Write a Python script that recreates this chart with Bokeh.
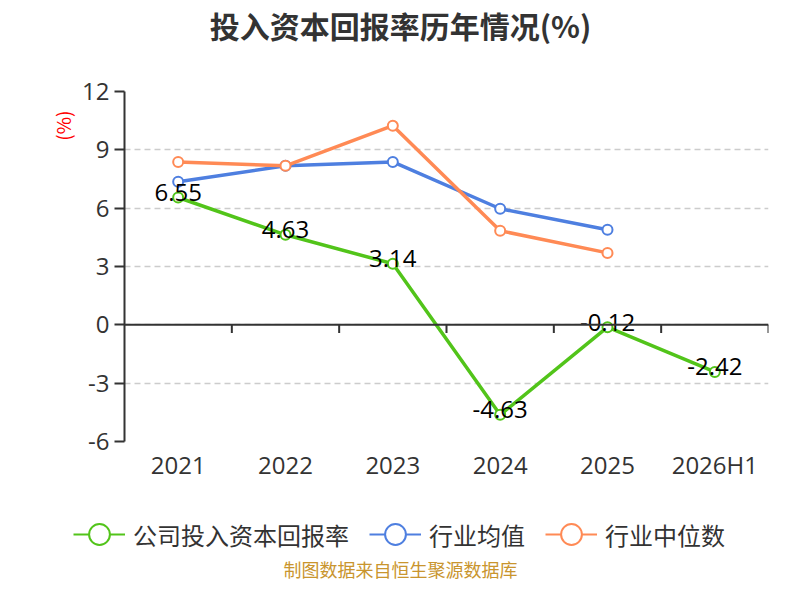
from bokeh.plotting import figure
from bokeh.layouts import column
from bokeh.models import (Range1d, FixedTicker, Span, Title, Label, Legend,
                          LegendItem, ColumnDataSource)
from bokeh.core.properties import value
from bokeh.embed import file_html
from bokeh.resources import INLINE

# ---- data ----
years = ["2021", "2022", "2023", "2024", "2025", "2026H1"]
company = [6.55, 4.63, 3.14, -4.63, -0.12, -2.42]
industry_mean = [7.36, 8.18, 8.38, 5.97, 4.89]
industry_median = [8.38, 8.18, 10.24, 4.84, 3.70]
y_ticks = [-6, -3, 0, 3, 6, 9, 12]

series_names = ["公司投入资本回报率", "行业均值", "行业中位数"]
colors = ["#52c41a", "#4e7fe0", "#ff8a55"]
title_text = "投入资本回报率历年情况(%)"
unit_text = "(%)"
footer_text = "制图数据来自恒生聚源数据库"

NUM_FONT = "Open Sans, Noto Sans CJK SC"
CJK_FONT = "Noto Sans CJK SC"

n = len(years)
xs = [i + 0.5 for i in range(n)]
W = 784


def bare(h, yr=(0, 1)):
    f = figure(width=W, height=h, output_backend="svg", toolbar_location=None,
               x_range=Range1d(0, 1), y_range=Range1d(*yr),
               min_border=0, min_border_left=0, min_border_right=0,
               min_border_top=0, min_border_bottom=0)
    f.axis.visible = False
    f.grid.visible = False
    f.outline_line_color = None
    f.frame_align = False
    return f


# ---- title figure ----
t = bare(56)
t.add_layout(Label(x=400, y=32, x_units="screen", y_units="screen",
                   text=title_text, text_align="center", text_baseline="middle",
                   text_font=CJK_FONT, text_font_size="30px",
                   text_font_style="bold", text_color="#333333"))

# ---- main chart ----
p = figure(width=W, height=440, output_backend="svg", toolbar_location=None,
           x_range=Range1d(0, n), y_range=Range1d(min(y_ticks), max(y_ticks)),
           min_border_left=124, min_border_right=16, min_border_top=35,
           min_border_bottom=55)
p.outline_line_color = None
p.frame_align = False

p.xgrid.visible = False
p.ygrid.ticker = FixedTicker(ticks=y_ticks)
p.ygrid.grid_line_color = "#cccccc"
p.ygrid.grid_line_width = 1.5
p.ygrid.grid_line_dash = "6 4"

p.yaxis.ticker = FixedTicker(ticks=y_ticks)
p.yaxis.major_label_overrides = {v: str(v) for v in y_ticks}
p.yaxis.axis_line_color = "#333333"
p.yaxis.axis_line_width = 2
p.yaxis.major_tick_line_color = "#333333"
p.yaxis.major_tick_line_width = 2
p.yaxis.major_tick_out = 10
p.yaxis.major_tick_in = 0
p.yaxis.minor_tick_line_color = None
p.yaxis.major_label_text_font = NUM_FONT
p.yaxis.major_label_text_font_size = "24px"
p.yaxis.major_label_text_color = "#333333"
p.yaxis.major_label_standoff = 5

p.xaxis.ticker = FixedTicker(ticks=xs)
p.xaxis.major_label_overrides = {x: y for x, y in zip(xs, years)}
p.xaxis.axis_line_color = None
p.xaxis.major_tick_line_color = None
p.xaxis.minor_tick_line_color = None
p.xaxis.major_label_text_font = NUM_FONT
p.xaxis.major_label_text_font_size = "24px"
p.xaxis.major_label_text_color = "#333333"
p.xaxis.major_label_standoff = 0

p.add_layout(Title(text=unit_text, align="right", text_color="#ff0000",
                   text_font=CJK_FONT, text_font_size="19px",
                   text_font_style="normal", offset=19, standoff=8), "left")

p.add_layout(Span(location=0, dimension="width", line_color="#333333", line_width=2))
bounds = [i + 1 for i in range(n)]
p.segment(x0=bounds, x1=bounds, y0=[0] * n, y1=[-0.42] * n,
          line_color="#333333", line_width=2)

all_vals = [company, industry_mean, industry_median]
sources = []
for vals, col in zip(all_vals, colors):
    src = ColumnDataSource(dict(x=xs[:len(vals)], y=vals))
    sources.append(src)
    p.line("x", "y", source=src, line_color=col, line_width=3.5)
    p.scatter("x", "y", source=src, size=10, marker="circle",
              fill_color="white", line_color=col, line_width=2)

lab_src = ColumnDataSource(dict(x=xs, y=company, t=[f"{v:.2f}" for v in company]))
p.text("x", "y", text="t", source=lab_src, text_align="center",
       text_baseline="middle", text_font=value(NUM_FONT), text_font_size="24px",
       text_color="black", y_offset=-5)

# ---- legend + footer figure (its y range keeps the series out of view) ----
q = bare(88, yr=(1000, 1001))
items = []
for name, src, col in zip(series_names, sources, colors):
    lr = q.line("x", "y", source=src, line_color=col, line_width=2)
    sr = q.scatter("x", "y", source=src, size=10, marker="circle",
                   fill_color="white", line_color=col, line_width=2)
    items.append(LegendItem(label=name, renderers=[lr, sr]))

legend = Legend(items=items, orientation="horizontal", location=(73, 23),
                glyph_width=52, glyph_height=54, label_standoff=8, spacing=20,
                padding=0, margin=0, border_line_color=None,
                background_fill_alpha=0,
                label_text_font=CJK_FONT, label_text_font_size="24px",
                label_text_color="#333333")
q.add_layout(legend)

q.add_layout(Label(x=400, y=16, x_units="screen", y_units="screen",
                   text=footer_text, text_align="center",
                   text_baseline="middle", text_font=CJK_FONT,
                   text_font_size="18px", text_color="#c9952e"))

layout = column(t, p, q, spacing=0)
open("out.html", "w").write(file_html(layout, INLINE))
